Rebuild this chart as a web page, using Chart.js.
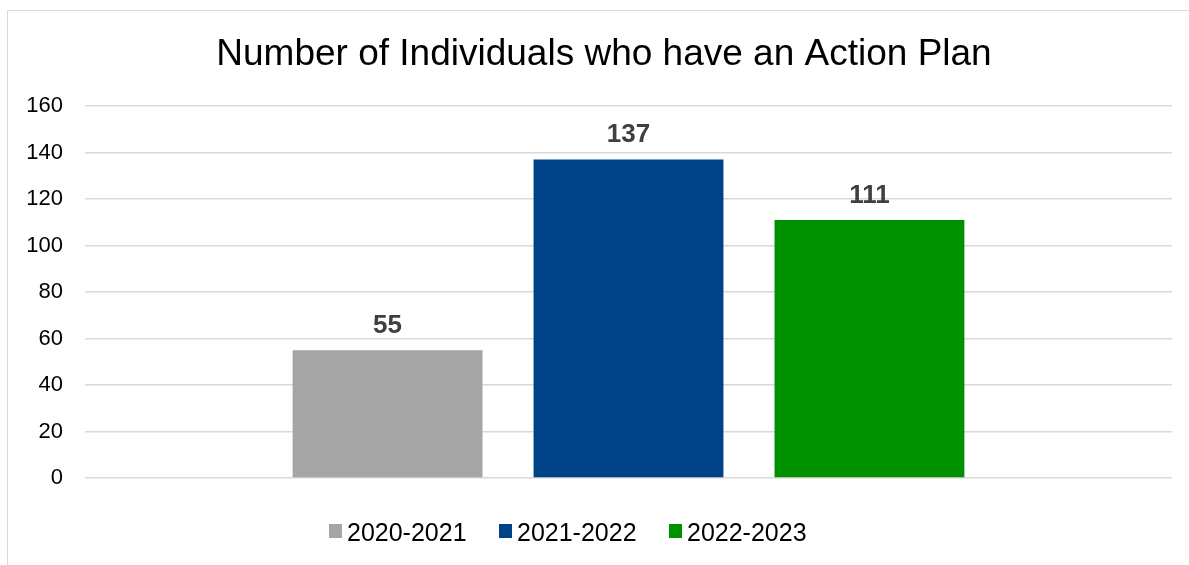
<!DOCTYPE html>
<html>
<head>
<meta charset="utf-8">
<script src="https://cdn.jsdelivr.net/npm/chart.js@4/dist/chart.umd.min.js"></script>
<style>
  html, body { margin: 0; padding: 0; background: #fff; }
  #wrap { position: relative; width: 1189px; height: 565px; overflow: hidden; }
  #frame { position: absolute; left: 7px; top: 10px; right: -5px; bottom: -5px; border-left: 1.5px solid #d9d9d9; border-top: 1.5px solid #d9d9d9; }
  #chart { position: absolute; left: 0; top: 0; }
</style>
</head>
<body>
<div id="wrap">
  <div id="frame"></div>
  <canvas id="chart" width="1189" height="565"></canvas>
</div>
<script>
// periods and counts
const periods = ['2020-2021', '2021-2022', '2022-2023'];
const counts = [55, 137, 111];
const barColors = ['#A5A5A5', '#004287', '#009100'];
const yTicks = [0, 20, 40, 60, 80, 100, 120, 140, 160];
const titleText = 'Number of Individuals who have an Action Plan';

const FONT = '"Liberation Sans", Arial, sans-serif';

// value labels above each bar
const valueLabels = {
  id: 'valueLabels',
  afterDatasetsDraw(chart){
    const ctx = chart.ctx;
    ctx.save();
    ctx.font = 'bold 26px ' + FONT;
    ctx.fillStyle = '#404040';
    ctx.textAlign = 'center';
    ctx.textBaseline = 'alphabetic';
    chart.data.datasets.forEach((ds, i)=>{
      const meta = chart.getDatasetMeta(i);
      meta.data.forEach((bar, j)=>{
        ctx.fillText(String(ds.data[j]), bar.x, bar.y - 17);
      });
    });
    ctx.restore();
  }
};

// title and legend drawn at fixed spots in the header / footer space
const headerFooter = {
  id: 'headerFooter',
  afterDraw(chart){
    const ctx = chart.ctx;
    ctx.save();
    ctx.fillStyle = '#000';
    ctx.textBaseline = 'alphabetic';
    ctx.font = '37px ' + FONT;
    ctx.textAlign = 'center';
    ctx.fillText(titleText, 604, 65);

    ctx.font = '25px ' + FONT;
    ctx.textAlign = 'left';
    let x = 329;
    chart.data.datasets.forEach(ds=>{
      ctx.fillStyle = ds.backgroundColor;
      ctx.fillRect(x, 524, 13, 14);
      ctx.fillStyle = '#000';
      ctx.fillText(ds.label, x + 18, 541);
      x += 170;
    });
    ctx.restore();
  }
};

const datasets = periods.map((p, i)=>({
  label: p,
  data: [counts[i]],
  backgroundColor: barColors[i],
  borderWidth: 0,
  categoryPercentage: 0.665,
  barPercentage: 0.788
}));

new Chart(document.getElementById('chart'), {
  type: 'bar',
  data: { labels: [''], datasets },
  plugins: [valueLabels, headerFooter],
  options: {
    responsive: false,
    animation: false,
    layout: { padding: { left: 0, right: 17, top: 106, bottom: 87 } },
    scales: {
      x: { display: false },
      y: {
        min: 0,
        max: 160,
        afterBuildTicks(scale){ scale.ticks = yTicks.map(v=>({value: v})); },
        afterFit(scale){ scale.width = 85; scale.paddingTop = 0; scale.paddingBottom = 0; },
        border: { display: false },
        grid: { color: '#d9d9d9', lineWidth: 1.5, drawTicks: false },
        ticks: { padding: 22, color: '#000', font: { family: FONT, size: 22 } }
      }
    },
    plugins: {
      title: { display: false },
      legend: { display: false },
      tooltip: { enabled: false }
    }
  }
});
</script>
</body>
</html>
